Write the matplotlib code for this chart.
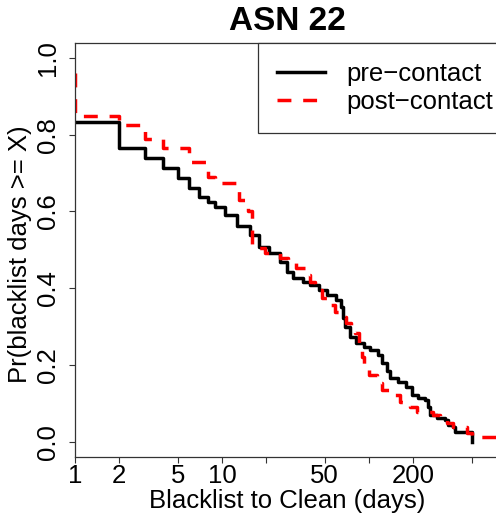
import matplotlib.pyplot as plt

plt.rcParams["font.family"] = ["Liberation Sans", "DejaVu Sans"]

# survival curves (days, Pr(days >= X))
pre_days = [1, 2, 3, 4, 5, 6, 7, 8, 9, 10.5, 12.6, 15.5, 18, 21, 25, 27.6, 30.6,
            35.7, 39.7, 46, 51.6, 60, 65, 67, 69, 74, 82, 92, 102, 116, 122, 132,
            139, 158, 180, 195, 216, 240, 253, 260, 289, 329, 346, 374, 385, 500]
pre_prob = [0.832, 0.765, 0.739, 0.713, 0.687, 0.661, 0.639, 0.626, 0.613, 0.591,
            0.561, 0.539, 0.508, 0.491, 0.469, 0.443, 0.426, 0.417, 0.409, 0.396,
            0.383, 0.369, 0.352, 0.322, 0.300, 0.274, 0.257, 0.248, 0.239, 0.226,
            0.204, 0.183, 0.165, 0.156, 0.143, 0.122, 0.113, 0.109, 0.091, 0.070,
            0.061, 0.057, 0.044, 0.039, 0.026, 0.0]

post_days = [1, 1, 2, 3, 4, 6, 8, 9, 13, 15, 16, 19.6, 24.8, 28, 32, 36.7, 40, 43,
             48, 52.6, 58.7, 63.5, 70, 75, 80, 85, 90, 92, 100, 113, 122, 146, 162,
             190, 212, 272, 304, 340, 372, 464, 500, 780]
post_prob = [0.96, 0.849, 0.826, 0.789, 0.765, 0.73, 0.69, 0.674, 0.63, 0.60,
             0.505, 0.492, 0.479, 0.466, 0.453, 0.435, 0.416, 0.396, 0.375, 0.356,
             0.338, 0.325, 0.31, 0.30, 0.283, 0.247, 0.221, 0.192, 0.174, 0.153,
             0.135, 0.122, 0.104, 0.091, 0.077, 0.070, 0.062, 0.048, 0.038, 0.023,
             0.012, 0.012]

x_ticks = [1, 2, 5, 10, 20, 50, 100, 200, 500]
x_labels = ["1", "2", "5", "10", "", "50", "", "200", ""]
y_ticks = [0.0, 0.2, 0.4, 0.6, 0.8, 1.0]
y_labels = ["0.0", "0.2", "0.4", "0.6", "0.8", "1.0"]

fig = plt.figure(figsize=(4.96, 5.18), dpi=100)
ax = fig.add_axes([75 / 496, 61 / 518, 425 / 496, 414.3 / 518])

ax.plot(pre_days, pre_prob, drawstyle="steps-post", color="black",
        linewidth=2.5, label="pre\u2212contact")
ax.plot(post_days, post_prob, drawstyle="steps-post", color="red",
        linewidth=2.5, linestyle=(0, (4, 3.4)), label="post\u2212contact")

ax.set_xscale("log")
ax.set_xlim(1, 780)
ax.set_ylim(-0.04, 1.04)

ax.set_xticks(x_ticks)
ax.set_xticklabels(x_labels, fontsize=18.5)
ax.minorticks_off()
ax.set_yticks(y_ticks)
ax.set_yticklabels(y_labels, fontsize=18.5, rotation=90, va="center")
ax.tick_params(length=4.5, width=0.8, color="#333333")
ax.tick_params(axis="x", pad=0.5)
ax.tick_params(axis="y", pad=6.5)

for s in ax.spines.values():
    s.set_linewidth(0.9)
    s.set_color("#333333")

ax.set_title("ASN 22", fontsize=24, fontweight="bold", pad=9)
ax.set_xlabel("Blacklist to Clean (days)", fontsize=18.5, labelpad=1)
ax.set_ylabel("Pr(blacklist days >= X)", fontsize=18.5)
ax.yaxis.set_label_coords(-0.1, 0.49)

leg = ax.legend(loc="upper left", bbox_to_anchor=((258 - 75) / 425, 1.0),
                borderaxespad=0, fontsize=18.5, handlelength=1.85,
                handletextpad=0.85, borderpad=0.75, labelspacing=0.15,
                fancybox=False, framealpha=1, edgecolor="#333333")
leg.get_frame().set_linewidth(0.9)

fig.savefig("out.png", dpi=100)
plt.close()
